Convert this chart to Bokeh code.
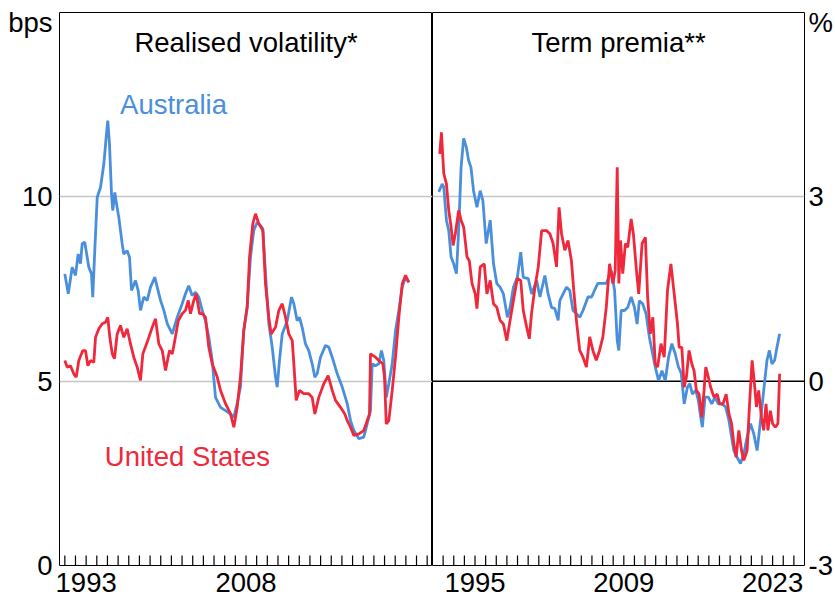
from bokeh.plotting import figure
from bokeh.layouts import row
from bokeh.models import FixedTicker, Label, Span, Range1d
from bokeh.embed import file_html
from bokeh.resources import INLINE

FONT = "Liberation Sans"
FS = "27.5px"
BLUE = "#4a8fdc"
RED = "#f0283c"

# ---------------- data: realised volatility (bps) ----------------
aus_vol_t = [1991.50,1991.82,1992.19,1992.50,1992.75,1992.97,1993.13,1993.37,1993.60,1993.75,
             1994.00,1994.12,1994.31,1994.54,1994.85,1995.16,1995.38,1995.53,1995.69,1995.88,
             1996.00,1996.19,1996.35,1996.56,1996.88,1997.03,1997.35,1997.57,1997.76,1998.13,
             1998.38,1998.60,1998.91,1999.23,1999.54,1999.94,2000.17,2000.48,2000.79,2001.11,
             2001.58,2002.04,2002.51,2002.82,2003.13,2003.45,2003.76,2004.07,2004.39,2004.70,
             2005.01,2005.33,2005.64,2006.11,2006.58,2007.05,2007.36,2007.67,2007.98,2008.29,
             2008.61,2008.92,2009.23,2009.55,2009.86,2010.08,2010.33,2010.64,2010.96,2011.27,
             2011.43,2011.64,2011.90,2012.37,2012.77,2012.99,2013.30,2013.52,2013.77,2014.08,
             2014.39,2014.71,2014.96,2015.18,2015.49,2015.96,2016.27,2016.59,2017.06,2017.53,
             2018.00,2018.31,2018.62,2019.09,2019.55,2019.87,2020.18,2020.34,2020.65,2020.96,
             2021.21,2021.43,2021.66,2021.90,2022.22,2022.53,2022.84,2023.16,2023.47,2023.78]
aus_vol = [7.91,7.37,8.09,7.87,8.45,8.19,8.73,8.77,8.36,8.09,
           7.91,7.28,8.54,9.99,10.26,10.89,11.62,12.07,11.44,10.08,
           9.63,10.12,9.81,9.45,8.73,8.45,8.54,8.36,7.46,7.73,
           7.46,6.92,7.28,7.19,7.55,7.82,7.55,7.19,6.92,6.56,
           6.28,6.73,7.10,7.37,7.59,7.32,7.41,7.28,6.92,6.64,
           6.19,5.56,4.56,4.29,4.20,4.11,4.02,4.39,4.84,6.37,
           7.01,8.36,9.09,9.31,9.22,9.13,7.91,6.56,5.92,5.11,
           4.84,5.56,6.28,6.64,7.28,7.10,6.64,6.73,6.46,6.01,
           5.83,5.47,5.11,5.20,5.65,5.97,5.92,5.65,5.20,4.84,
           4.39,3.93,3.66,3.44,3.48,3.84,4.20,5.47,5.42,5.47,
           5.83,5.56,4.56,4.93,5.47,6.37,6.92,7.55,7.82,7.68]

us_vol_t = [1991.50,1991.72,1992.03,1992.34,1992.57,1992.81,1993.19,1993.44,1993.66,1993.91,
            1994.22,1994.38,1994.69,1995.01,1995.32,1995.53,1995.72,1995.95,1996.16,1996.41,
            1996.72,1997.03,1997.35,1997.66,1997.97,1998.29,1998.60,1998.82,1999.23,1999.70,
            2000.01,2000.32,2000.64,2000.95,2001.32,2001.58,2001.82,2002.14,2002.51,2002.82,
            2003.08,2003.29,2003.60,2003.83,2004.14,2004.42,2004.70,2005.01,2005.33,2005.80,
            2006.11,2006.58,2007.05,2007.36,2007.67,2007.98,2008.29,2008.61,2008.83,2009.14,
            2009.39,2009.70,2010.08,2010.33,2010.64,2010.86,2011.27,2011.58,2011.90,2012.21,
            2012.52,2012.84,2012.99,2013.21,2013.52,2013.92,2014.39,2014.71,2014.96,2015.33,
            2015.80,2016.21,2016.59,2016.90,2017.37,2017.77,2018.00,2018.31,2018.62,2019.09,
            2019.55,2019.87,2020.09,2020.18,2020.65,2020.96,2021.34,2021.50,2021.66,2021.90,
            2022.22,2022.53,2022.84,2023.16,2023.47,2023.78]
us_vol = [5.56,5.38,5.42,5.20,5.11,5.56,5.83,5.83,5.42,5.56,
          5.51,6.19,6.42,6.56,6.60,6.73,6.19,5.74,5.61,6.28,
          6.51,6.19,6.42,6.01,5.65,5.38,5.02,5.74,6.06,6.46,
          6.69,6.01,5.83,5.29,5.83,5.74,6.10,6.64,6.83,6.92,
          7.19,6.83,7.19,7.37,6.83,6.83,6.73,5.92,5.47,5.11,
          4.75,4.39,4.11,3.75,4.29,5.11,6.37,7.01,8.36,9.27,
          9.54,9.27,9.09,7.64,6.73,6.28,6.46,6.92,7.10,6.73,
          6.28,6.10,5.47,4.48,4.75,4.66,4.66,4.56,4.11,4.56,
          4.93,5.15,4.75,4.48,4.29,4.11,3.93,3.75,3.53,3.57,
          3.66,3.93,4.11,5.74,5.65,5.56,5.47,5.11,3.84,3.93,
          4.75,5.65,6.73,7.64,7.87,7.68]

# ---------------- data: term premia (%) ----------------
aus_tp_t = [1992.09,1992.41,1992.56,1992.81,1993.03,1993.25,1993.49,1993.75,1993.96,1994.19,
            1994.43,1994.68,1994.90,1995.12,1995.36,1995.68,1995.99,1996.24,1996.55,1996.93,
            1997.24,1997.55,1997.86,1998.17,1998.55,1998.80,1999.11,1999.48,1999.80,2000.04,
            2000.51,2000.83,2001.30,2001.61,2002.07,2002.38,2002.70,2003.01,2003.32,2003.48,
            2003.79,2004.11,2004.41,2004.72,2005.04,2005.35,2005.66,2006.13,2006.47,2006.75,
            2007.06,2007.47,2007.85,2008.32,2008.63,2008.88,2009.03,2009.25,2009.56,2009.87,
            2010.19,2010.50,2010.75,2010.96,2011.27,2011.59,2011.90,2012.15,2012.46,2012.77,
            2013.09,2013.40,2013.71,2014.02,2014.33,2014.64,2014.90,2015.18,2015.48,2015.71,
            2015.95,2016.27,2016.51,2016.74,2016.89,2017.14,2017.45,2017.77,2018.08,2018.39,
            2018.70,2019.08,2019.39,2019.64,2019.85,2020.16,2020.48,2020.79,2021.10,2021.42,
            2021.73,2022.04,2022.26,2022.50,2022.76,2022.97,2023.20,2023.44,2023.69,2023.91,2024.16]
aus_tp = [3.08,3.21,3.16,2.62,2.45,2.02,1.91,1.75,2.45,3.48,
          3.95,3.81,3.59,3.48,3.10,2.83,3.10,2.94,2.24,2.62,
          1.91,1.59,1.53,1.42,1.04,1.20,1.53,1.69,2.10,1.69,
          1.67,1.42,1.64,1.37,1.72,1.42,1.20,1.18,0.99,1.31,
          1.42,1.53,1.48,1.15,1.10,1.04,1.15,1.37,1.37,1.48,
          1.59,1.59,1.59,1.80,1.48,0.66,0.50,1.15,1.15,1.20,
          1.37,1.20,0.93,1.31,1.26,1.10,0.72,0.50,0.23,0.01,
          0.17,0.01,0.39,0.61,0.45,0.23,0.13,-0.37,-0.10,-0.04,
          -0.21,-0.15,-0.31,-0.59,-0.75,-0.26,-0.26,-0.37,-0.26,-0.37,
          -0.37,-0.42,-0.64,-0.91,-1.13,-1.24,-1.34,-1.18,-0.91,-0.69,
          -0.86,-1.13,-0.80,-0.42,0.01,0.34,0.50,0.28,0.34,0.55,0.77]

us_tp_t = [1992.18,1992.34,1992.56,1992.81,1993.03,1993.25,1993.44,1993.65,1993.96,1994.19,
           1994.43,1994.75,1994.96,1995.22,1995.52,1995.68,1995.99,1996.37,1996.62,1996.93,
           1997.24,1997.55,1997.86,1998.17,1998.49,1998.80,1999.11,1999.48,1999.80,2000.04,
           2000.36,2000.61,2000.83,2001.14,2001.45,2001.77,2002.23,2002.54,2002.85,2003.17,
           2003.41,2003.64,2003.95,2004.25,2004.57,2004.79,2005.04,2005.35,2005.66,2005.98,
           2006.29,2006.59,2006.91,2007.22,2007.53,2007.85,2008.16,2008.47,2008.69,2008.88,
           2009.03,2009.19,2009.40,2009.65,2009.87,2010.19,2010.40,2010.66,2010.90,2011.22,
           2011.53,2011.74,2011.99,2012.23,2012.46,2012.68,2013.00,2013.30,2013.61,2013.93,
           2014.24,2014.55,2014.71,2014.96,2015.18,2015.39,2015.64,2015.90,2016.11,2016.33,
           2016.58,2016.83,2017.05,2017.21,2017.45,2017.67,2017.98,2018.29,2018.52,2018.83,
           2019.13,2019.39,2019.64,2019.85,2020.07,2020.32,2020.58,2020.79,2021.10,2021.35,
           2021.57,2021.79,2021.98,2022.19,2022.45,2022.66,2022.88,2023.06,2023.29,2023.50,
           2023.76,2024.00,2024.16]
us_tp = [3.70,4.05,3.38,3.21,2.78,2.51,2.21,2.40,2.78,2.62,
         2.51,2.02,1.96,1.59,1.42,1.18,1.86,1.91,1.42,1.64,
         1.26,1.20,0.99,0.93,0.66,0.99,1.31,1.67,1.64,1.15,
         0.88,0.69,1.12,1.53,1.86,2.45,2.45,2.40,2.24,1.86,
         2.83,2.40,2.13,2.29,1.96,1.48,0.99,0.50,0.39,0.23,
         0.72,0.50,0.34,0.50,0.72,1.20,1.91,1.59,1.80,3.48,
         1.59,2.29,1.75,2.24,2.18,2.64,2.40,1.86,1.42,2.24,
         2.34,1.37,0.77,1.04,0.28,0.23,0.61,0.39,1.48,1.91,
         1.42,0.93,0.55,0.55,-0.10,0.07,0.50,0.28,0.17,-0.15,
         -0.21,-0.59,-0.15,0.23,0.07,-0.10,-0.26,-0.21,-0.37,-0.37,
         -0.21,-0.53,-0.69,-1.02,-1.24,-0.80,-1.13,-1.29,-1.13,-0.31,
         0.34,-0.04,-0.42,-0.15,-0.59,-0.80,-0.37,-0.80,-0.48,-0.69,
         -0.75,-0.69,0.12]

# ---------------- axes ----------------
vol_x_start = 1991.0
tp_x_start = 1991.5
span_years = 35
vol_label_years = [1993, 2008]
tp_label_years = [1995, 2009, 2023]
vol_y_range = (0, 15)
vol_y_ticks = [0, 5, 10]
vol_y_labels = ["0", "5", "10"]
vol_y_grid = [5, 10]
tp_y_range = (-3, 6)
tp_y_ticks = [-3, 0, 3]
tp_y_labels = ["-3", "0", "3"]
tp_y_grid = [3]
vol_unit = "bps"
tp_unit = "%"

W_LEFT, W_RIGHT, H = 432, 403, 604
B_TOP, B_BOTTOM = 12, 39
FRAME_H = H - B_TOP - B_BOTTOM
TICK_PX = 10


def style_common(p, x_start, y_range, label_years, y_ticks, y_labels, grid_ticks, unit,
                 unit_pos, standoff):
    p.outline_line_color = "black"
    p.outline_line_width = 1
    p.background_fill_color = "white"
    p.border_fill_color = "white"
    p.xgrid.visible = False
    p.ygrid.ticker = FixedTicker(ticks=grid_ticks)
    p.ygrid.grid_line_color = "#c6c6c6"
    p.ygrid.grid_line_width = 1.5

    # year ticks at mid-year, labelled every few years
    ticks = [y + 0.5 for y in range(int(x_start), int(x_start + span_years) + 1)
             if x_start < y + 0.5 < x_start + span_years]
    xa = p.xaxis[0]
    xa.ticker = FixedTicker(ticks=ticks, minor_ticks=[])
    xa.major_label_overrides = {t: (str(int(t)) if int(t) in label_years else "") for t in ticks}
    xa.major_tick_in = 0
    xa.major_tick_out = 0
    xa.minor_tick_in = 0
    xa.minor_tick_out = 0
    xa.axis_line_color = None
    xa.major_label_text_font = FONT
    xa.major_label_text_font_size = FS
    xa.major_label_text_color = "black"
    xa.major_label_standoff = 7
    # inward tick marks along the bottom of the frame
    y0 = y_range[0]
    tick_len = TICK_PX * (y_range[1] - y_range[0]) / FRAME_H
    n = len(ticks)
    p.segment(x0=ticks, y0=[y0] * n, x1=ticks, y1=[y0 + tick_len] * n,
              line_color="#000000", line_width=1.2)

    ya = p.yaxis[0]
    ya.ticker = FixedTicker(ticks=y_ticks + [unit_pos], minor_ticks=[])
    overrides = {t: s for t, s in zip(y_ticks, y_labels)}
    overrides[unit_pos] = unit
    ya.major_label_overrides = overrides
    ya.major_tick_in = 0
    ya.major_tick_out = 0
    ya.minor_tick_in = 0
    ya.minor_tick_out = 0
    ya.axis_line_color = None
    ya.major_label_text_font = FONT
    ya.major_label_text_font_size = FS
    ya.major_label_text_color = "black"
    ya.major_label_standoff = standoff


# left panel
p1 = figure(width=W_LEFT, height=H, x_range=Range1d(vol_x_start, vol_x_start + span_years),
            y_range=Range1d(*vol_y_range), output_backend="svg", toolbar_location=None,
            y_axis_location="left", min_border_left=59, min_border_right=0,
            min_border_top=B_TOP, min_border_bottom=B_BOTTOM)
style_common(p1, vol_x_start, vol_y_range, vol_label_years, vol_y_ticks, vol_y_labels,
             vol_y_grid, vol_unit, 14.73, 7)
p1.line(aus_vol_t, aus_vol, line_color=BLUE, line_width=2.8)
p1.line(us_vol_t, us_vol, line_color=RED, line_width=2.8)
p1.add_layout(Label(x=vol_x_start + span_years / 2, y=14.18, text="Realised volatility*",
                    text_font=FONT, text_font_size=FS, text_align="center",
                    text_baseline="middle", text_color="black"))
p1.add_layout(Label(x=2001.7, y=12.5, text="Australia", text_font=FONT, text_font_size=FS,
                    text_align="center", text_baseline="middle", text_color=BLUE))
p1.add_layout(Label(x=2003.0, y=2.96, text="United States", text_font=FONT, text_font_size=FS,
                    text_align="center", text_baseline="middle", text_color=RED))

# right panel
p2 = figure(width=W_RIGHT, height=H, x_range=Range1d(tp_x_start, tp_x_start + span_years),
            y_range=Range1d(*tp_y_range), output_backend="svg", toolbar_location=None,
            y_axis_location="right", min_border_left=0, min_border_right=29,
            min_border_top=B_TOP, min_border_bottom=B_BOTTOM)
style_common(p2, tp_x_start, tp_y_range, tp_label_years, tp_y_ticks, tp_y_labels,
             tp_y_grid, tp_unit, 5.84, 4)
p2.add_layout(Span(location=0, dimension="width", line_color="black", line_width=1.5,
                   level="underlay"))
p2.line(aus_tp_t, aus_tp, line_color=BLUE, line_width=2.8)
p2.line(us_tp_t, us_tp, line_color=RED, line_width=2.8)
p2.add_layout(Label(x=tp_x_start + span_years / 2, y=5.51, text="Term premia**",
                    text_font=FONT, text_font_size=FS, text_align="center",
                    text_baseline="middle", text_color="black"))

layout = row(p1, p2, spacing=0)

with open("out.html", "w") as f:
    f.write(file_html(layout, INLINE))
